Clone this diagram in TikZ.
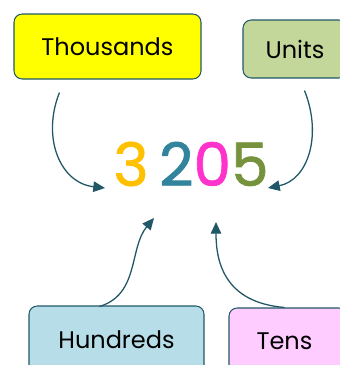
\documentclass[tikz,border=0pt]{standalone}
\usepackage{fontspec}
\setmainfont{Poppins}
\usetikzlibrary{arrows.meta}

\definecolor{arrowteal}{RGB}{33,88,104}
\definecolor{thyellow}{RGB}{255,255,0}
\definecolor{unitgreen}{RGB}{196,215,155}
\definecolor{hundblue}{RGB}{183,222,232}
\definecolor{tenspink}{RGB}{255,204,255}
\definecolor{digitgold}{RGB}{255,192,0}
\definecolor{digitteal}{RGB}{49,132,155}
\definecolor{digitpink}{RGB}{255,51,204}
\definecolor{digitolive}{RGB}{118,146,60}

\tikzset{
  placebox/.style={draw=arrowteal, line width=0.9pt, rounded corners=7pt,
    font=\fontsize{20.5}{24}\selectfont, inner sep=0pt},
  placearrow/.style={draw=arrowteal, line width=1.1pt,
    -{Triangle[width=9pt,length=10pt]}}
}

\begin{document}
\begin{tikzpicture}[x=0.03cm, y=-0.03cm]
      \useasboundingbox (0,0) rectangle (340,365);

      % Place value boxes
      \node[placebox, fill=thyellow, minimum width=187*0.03cm, minimum height=65*0.03cm] (thousands) at (107.5,46.5) {Thousands};
      \node[placebox, fill=unitgreen, minimum width=104*0.03cm, minimum height=58*0.03cm] (units) at (295,49) {Units};
      \node[placebox, fill=hundblue, minimum width=175*0.03cm, minimum height=68*0.03cm] (hundreds) at (116.5,340) {Hundreds};
      \node[placebox, fill=tenspink, minimum width=118*0.03cm, minimum height=66*0.03cm] (tens) at (288,341) {\hspace*{-6pt}Tens};

      % The number
      \node[font=\fontsize{51}{54}\selectfont\addfontfeature{FakeBold=1.2}, inner sep=0pt] (number) at (191,164)
        {\textcolor{digitgold}{3}\hspace{9pt}\textcolor{digitteal}{2}\textcolor{digitpink}{0}\textcolor{digitolive}{5}};

      % Arrow ends
      \coordinate (thTip) at (105,188);
      \coordinate (unTip) at (268,188);
      \coordinate (huTip) at (154,218);
      \coordinate (teTip) at (216,222);

      % Arrows
      \draw[placearrow] (thousands.south west) ++(46,13) .. controls +(-18,45) and +(-45,-5) .. (thTip);
      \draw[placearrow] (units.south west) ++(62,12) .. controls +(18,45) and +(40,-8) .. (unTip);
      \draw[placearrow] (hundreds.north west) ++(71,1) .. controls +(40,-12) and +(-25,30) .. (huTip);
      \draw[placearrow] (tens.north west) ++(56,0) .. controls +(-60,-5) and +(0,40) .. (teTip);

    \end{tikzpicture}
\end{document}
